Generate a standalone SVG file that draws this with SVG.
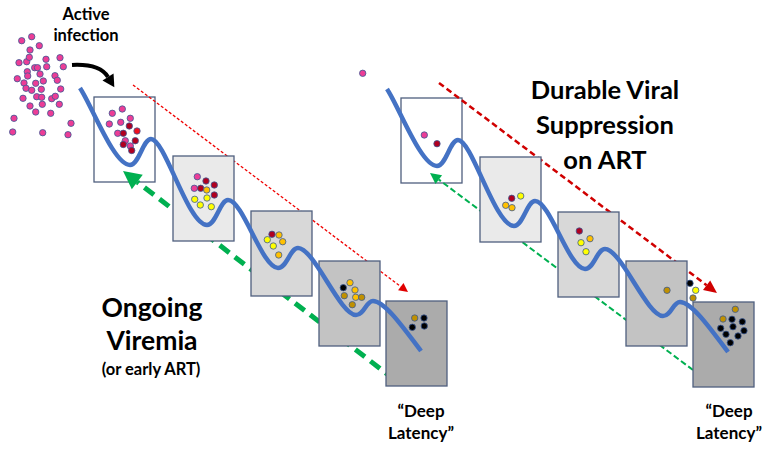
<svg xmlns="http://www.w3.org/2000/svg" width="768" height="450" viewBox="0 0 768 450">
<style>
.box{stroke:#4F5F7E;stroke-width:1.3}
.d circle{r:3.2px}
.d{stroke:#3B5A96;stroke-width:0.8}
.pk{fill:#EC3D96}
.dr{fill:#B00020}
.rd{fill:#F01020}
.ye{fill:#FFFF00}
.or{fill:#FFC000}
.dg{fill:#C09000}
.bk{fill:#000000}
.curve{fill:none;stroke:#4472C4;stroke-width:4.5}
.t{font-family:Lato,"Liberation Sans",sans-serif;font-weight:bold;fill:#000;text-anchor:middle}
</style>
<defs>
<marker id="ahRs" markerUnits="userSpaceOnUse" markerWidth="10" markerHeight="9" refX="0" refY="4.5" orient="auto" overflow="visible"><path d="M0,0 L9,4.5 L0,9 z" fill="#E00000"/></marker>
<marker id="ahRl" markerUnits="userSpaceOnUse" markerWidth="14" markerHeight="12" refX="0" refY="6" orient="auto" overflow="visible"><path d="M0,0 L13,6 L0,12 z" fill="#D00000"/></marker>
<marker id="ahGl" markerUnits="userSpaceOnUse" markerWidth="19" markerHeight="18" refX="0" refY="9" orient="auto" overflow="visible"><path d="M0,0 L18,9 L0,18 z" fill="#00B050"/></marker>
<marker id="ahGs" markerUnits="userSpaceOnUse" markerWidth="12" markerHeight="11" refX="0" refY="5.5" orient="auto" overflow="visible"><path d="M0,0 L11,5.5 L0,11 z" fill="#00B050"/></marker>
<marker id="ahK" markerUnits="userSpaceOnUse" markerWidth="13" markerHeight="13" refX="0" refY="6.5" orient="auto" overflow="visible"><path d="M0,0 L12,6.5 L0,13 z" fill="#000"/></marker>
<path id="wave" d="M80,88 C92,106 114,165 130,165 C139,165 143,139 151,139 C165,139 188,225 207,225 C216,225 220,200 228,200 C243,200 262,268 278,268 C287,268 290,248 298,248 C314,248 340,315 356,315 C364,315 366,301 373,301 C385,301 405,330 421,351"/>
</defs>

<g id="infection-cloud" class="d">
<circle class="pk" cx="21.7" cy="40.7" r="3"/><circle class="pk" cx="31.7" cy="36.7" r="3"/><circle class="pk" cx="30" cy="50" r="3"/><circle class="pk" cx="39.3" cy="45.7" r="3"/>
<circle class="pk" cx="19" cy="62.7" r="3"/><circle class="pk" cx="26.7" cy="61.7" r="3"/><circle class="pk" cx="29.3" cy="57.3" r="3"/><circle class="pk" cx="46" cy="59.3" r="3"/>
<circle class="pk" cx="60" cy="57.7" r="3"/><circle class="pk" cx="34.7" cy="67.7" r="3"/><circle class="pk" cx="37.5" cy="67.7" r="3"/><circle class="pk" cx="46.7" cy="66.7" r="3"/>
<circle class="pk" cx="63.3" cy="66.7" r="3"/><circle class="pk" cx="27.3" cy="71.7" r="3"/><circle class="pk" cx="27.7" cy="76" r="3"/><circle class="pk" cx="40" cy="74" r="3"/>
<circle class="pk" cx="55" cy="75.7" r="3"/><circle class="pk" cx="17.3" cy="78.7" r="3"/><circle class="pk" cx="24" cy="83" r="3"/><circle class="pk" cx="35.7" cy="83.3" r="3"/>
<circle class="pk" cx="43.3" cy="81" r="3"/><circle class="pk" cx="57.3" cy="80.3" r="3"/><circle class="pk" cx="26" cy="88.3" r="3"/><circle class="pk" cx="31.7" cy="90.3" r="3"/>
<circle class="pk" cx="41.3" cy="89.3" r="3"/><circle class="pk" cx="60.7" cy="89" r="3"/><circle class="pk" cx="23" cy="98.3" r="3"/><circle class="pk" cx="36.7" cy="96.7" r="3"/>
<circle class="pk" cx="41.7" cy="97.3" r="3"/><circle class="pk" cx="51.7" cy="98.7" r="3"/><circle class="pk" cx="55.3" cy="96.3" r="3"/><circle class="pk" cx="59.3" cy="104.3" r="3"/>
<circle class="pk" cx="30" cy="106" r="3"/><circle class="pk" cx="42.3" cy="104.3" r="3"/><circle class="pk" cx="35.7" cy="112" r="3"/><circle class="pk" cx="50.7" cy="113.3" r="3"/>
<circle class="pk" cx="14" cy="118.3" r="3"/><circle class="pk" cx="71" cy="123.3" r="3"/><circle class="pk" cx="12.7" cy="132" r="3"/><circle class="pk" cx="42.7" cy="132.7" r="3"/>
<circle class="pk" cx="68" cy="134.7" r="3"/>
<circle class="pk" cx="362.7" cy="73.3" r="3"/>
</g>

<g id="left-box1"><rect class="box" x="94" y="97" width="61" height="85" fill="#FFFFFF"/>
<g class="d"><circle class="pk" cx="112.3" cy="113.3" r="3"/><circle class="pk" cx="122.3" cy="109" r="3"/><circle class="pk" cx="109.3" cy="124" r="3"/><circle class="pk" cx="120.7" cy="122.3" r="3"/><circle class="pk" cx="130.3" cy="118.3" r="3"/><circle class="dr" cx="129.3" cy="126" r="3"/><circle class="pk" cx="117.7" cy="133.3" r="3"/><circle class="dr" cx="123.3" cy="133.3" r="3"/><circle class="rd" cx="137" cy="131" r="3"/><circle class="dr" cx="135.3" cy="140.7" r="3"/><circle class="pk" cx="125.3" cy="140.7" r="3"/><circle class="dr" cx="123.3" cy="144.5" r="3"/><circle class="pk" cx="130.3" cy="146" r="3"/><circle class="dr" cx="131.7" cy="150.5" r="3"/></g></g>
<g id="right-box1"><rect class="box" x="401" y="98" width="61" height="85" fill="#FFFFFF"/>
<g class="d"><circle class="pk" cx="424.3" cy="135" r="3"/><circle class="dr" cx="437" cy="143.7" r="3"/></g></g>

<g id="connectors">
<path d="M133,85 L400.8,286.6" fill="none" stroke="#F00000" stroke-width="1.3" stroke-dasharray="3,2" marker-end="url(#ahRs)"/>
<path d="M395,380 L137.3,182" fill="none" stroke="#00B050" stroke-width="5" stroke-dasharray="12,7" marker-end="url(#ahGl)"/>
<path d="M439,83 L706.6,285.2" fill="none" stroke="#D00000" stroke-width="2.5" stroke-dasharray="6,3.5" marker-end="url(#ahRl)"/>
<path d="M693,370 L438.8,179.6" fill="none" stroke="#00B050" stroke-width="2" stroke-dasharray="6,3" marker-end="url(#ahGs)"/>
<path d="M72,65 C92,64 103,69 108,77" fill="none" stroke="#000" stroke-width="4" marker-end="url(#ahK)"/>
</g>

<g id="left-box2"><rect class="box" x="173" y="156" width="61" height="85" fill="#EAEAEA"/>
<g class="d"><circle class="pk" cx="197.3" cy="176.7" r="3"/><circle class="dr" cx="206" cy="181" r="3"/><circle class="dr" cx="214.3" cy="185" r="3"/><circle class="pk" cx="194.3" cy="188.3" r="3"/><circle class="dr" cx="200.7" cy="188.3" r="3"/><circle class="or" cx="206.7" cy="190" r="3"/><circle class="dr" cx="214.3" cy="195" r="3"/><circle class="ye" cx="194.7" cy="199.3" r="3"/><circle class="ye" cx="207" cy="198" r="3"/><circle class="ye" cx="200.3" cy="205" r="3"/><circle class="ye" cx="211.3" cy="206.7" r="3"/></g></g>
<g id="left-box3"><rect class="box" x="251" y="211" width="61" height="85" fill="#D8D8D8"/>
<g class="d"><circle class="dr" cx="272" cy="234.3" r="3"/><circle class="or" cx="279" cy="235" r="3"/><circle class="ye" cx="267.3" cy="239.7" r="3"/><circle class="or" cx="282.7" cy="241.7" r="3"/><circle class="ye" cx="273.3" cy="246" r="3"/><circle class="or" cx="278.7" cy="255" r="3"/></g></g>
<g id="left-box4"><rect class="box" x="319" y="261" width="61" height="85" fill="#C3C3C3"/>
<g class="d"><circle class="or" cx="350" cy="282.7" r="3"/><circle class="bk" cx="343.3" cy="287.7" r="3"/><circle class="or" cx="355" cy="290" r="3"/><circle class="dg" cx="344.3" cy="295.7" r="3"/><circle class="or" cx="355.7" cy="297.3" r="3"/><circle class="dg" cx="361.7" cy="297.3" r="3"/><circle class="dg" cx="352.3" cy="304.7" r="3"/></g></g>
<g id="left-box5"><rect class="box" x="386" y="301" width="61" height="85" fill="#ABABAB"/>
<g class="d"><circle class="dg" cx="414.7" cy="318" r="3"/><circle class="bk" cx="424" cy="318" r="3"/><circle class="bk" cx="412.3" cy="327.3" r="3"/><circle class="bk" cx="424.3" cy="326" r="3"/></g></g>

<g id="right-box2"><rect class="box" x="480" y="157" width="61" height="85" fill="#EAEAEA"/>
<g class="d"><circle class="dr" cx="511.7" cy="198.3" r="3"/><circle class="ye" cx="520.7" cy="196" r="3"/><circle class="or" cx="505.7" cy="205.3" r="3"/><circle class="or" cx="512" cy="207.7" r="3"/></g></g>
<g id="right-box3"><rect class="box" x="558" y="212" width="61" height="85" fill="#D8D8D8"/>
<g class="d"><circle class="dr" cx="579.3" cy="231" r="3"/><circle class="or" cx="590" cy="238.7" r="3"/><circle class="ye" cx="581" cy="242.7" r="3"/><circle class="ye" cx="586" cy="251.7" r="3"/></g></g>
<g id="right-box4"><rect class="box" x="626" y="261" width="61" height="85" fill="#C3C3C3"/>
<g class="d"><circle class="dg" cx="667" cy="290.3" r="3"/><circle class="bk" cx="690" cy="283.3" r="3"/><circle class="ye" cx="695.7" cy="290.3" r="3"/><circle class="dg" cx="693" cy="298" r="3"/></g></g>
<g id="right-box5"><rect class="box" x="693" y="302" width="61" height="85" fill="#ABABAB"/>
<g class="d"><circle class="dg" cx="735.3" cy="309.3" r="3"/><circle class="dg" cx="723" cy="319" r="3"/><circle class="bk" cx="732" cy="319.3" r="3"/><circle class="bk" cx="742.3" cy="321.7" r="3"/><circle class="bk" cx="720.7" cy="328.3" r="3"/><circle class="bk" cx="733" cy="326.7" r="3"/><circle class="bk" cx="744" cy="330.7" r="3"/><circle class="bk" cx="726" cy="334.3" r="3"/><circle class="bk" cx="738" cy="336" r="3"/><circle class="bk" cx="730.3" cy="342.7" r="3"/></g></g>

<g id="waves">
<use href="#wave" class="curve"/>
<use href="#wave" class="curve" transform="translate(307,1)"/>
</g>

<g id="labels">
<text class="t" x="86" y="20" font-size="16.5">Active</text>
<text class="t" x="86" y="41" font-size="16.5">infection</text>
<text class="t" x="605" y="99" font-size="25.5">Durable Viral</text>
<text class="t" x="605" y="134" font-size="25.5">Suppression</text>
<text class="t" x="605" y="169" font-size="25.5">on ART</text>
<text class="t" x="152" y="317" font-size="26.5">Ongoing</text>
<text class="t" x="152" y="350" font-size="26.5">Viremia</text>
<text class="t" x="151" y="375" font-size="16.5">(or early ART)</text>
<text class="t" x="421" y="417" font-size="17">“Deep</text>
<text class="t" x="421" y="439" font-size="17">Latency”</text>
<text class="t" x="729" y="417" font-size="17">“Deep</text>
<text class="t" x="729" y="439" font-size="17">Latency”</text>
</g>
</svg>
